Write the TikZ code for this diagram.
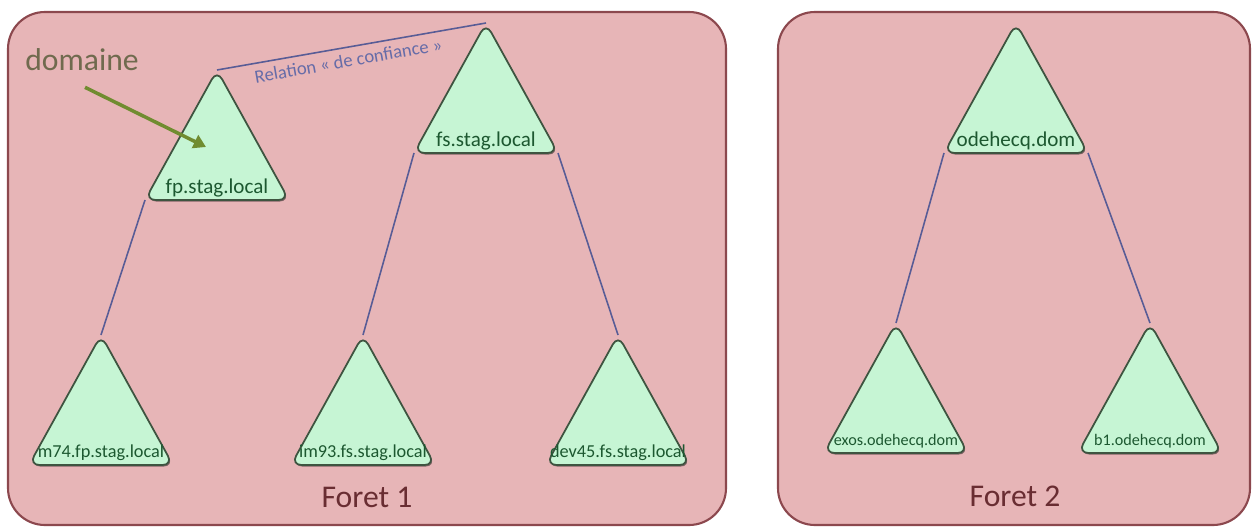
\documentclass[tikz,border=0pt]{standalone}
\usepackage{fontspec}
\setmainfont{Carlito}
\usepackage{tikz}
\usetikzlibrary{arrows.meta,positioning,calc,shadows}
\definecolor{rose}{RGB}{231,181,183}
\definecolor{rosedark}{RGB}{140,72,78}
\definecolor{mint}{RGB}{198,245,212}
\definecolor{mintline}{RGB}{62,84,64}
\definecolor{greentext}{RGB}{28,88,48}
\definecolor{linkblue}{RGB}{88,92,150}
\definecolor{relblue}{RGB}{102,108,168}
\definecolor{olive}{RGB}{112,140,48}
\definecolor{olivegrey}{RGB}{112,106,78}
\definecolor{foretred}{RGB}{105,45,50}

\newcommand{\domtri}[5]{%
  \coordinate (#1-top) at (#2,#3);
  \coordinate (#1-bl) at ($(#1-top)+(-72,130)$);
  \coordinate (#1-br) at ($(#1-top)+(72,130)$);
  \draw[tri] (#1-top) -- (#1-br) -- (#1-bl) -- cycle;
  \node[domlbl,font=#4] (#1) at ($(#1-top)+(0,118)$) {#5};
}

\begin{document}
\begin{tikzpicture}[x=0.02cm,y=-0.02cm,>=Latex,
  foret/.style={draw=rosedark,line width=1.2pt,fill=rose,rounded corners=21pt},
  tri/.style={draw=mintline,line width=1pt,fill=mint,rounded corners=6pt,
    drop shadow={shadow xshift=0.6pt,shadow yshift=-0.9pt,opacity=0.45,fill=black}},
  domlbl/.style={text=greentext,inner sep=1pt},
  lien/.style={draw=linkblue,line width=0.9pt},
  fleche/.style={draw=olive,line width=2pt,-{Triangle[length=7pt,width=8pt]}}]
  \useasboundingbox (0,0) rectangle (1255,527);
  \draw[foret] (8,12) rectangle (726,525);
  \draw[foret] (778,12) rectangle (1250,525);

  \domtri{fp}{217}{70}{\fontsize{12pt}{14pt}\selectfont}{fp.stag.local}
  \domtri{fs}{486}{23}{\fontsize{12pt}{14pt}\selectfont}{fs.stag.local}
  \domtri{m74}{101}{335}{\fontsize{10.4pt}{12pt}\selectfont}{m74.fp.stag.local}
  \domtri{im93}{363}{335}{\fontsize{10.4pt}{12pt}\selectfont}{im93.fs.stag.local}
  \domtri{dev45}{618}{335}{\fontsize{10.4pt}{12pt}\selectfont}{dev45.fs.stag.local}
  \domtri{ode}{1016}{23}{\fontsize{12pt}{14pt}\selectfont}{odehecq.dom}
  \domtri{exos}{896}{323}{\fontsize{9.2pt}{11pt}\selectfont}{exos.odehecq.dom}
  \domtri{b1}{1150}{323}{\fontsize{9.2pt}{11pt}\selectfont}{b1.odehecq.dom}

  \draw[lien] (fp-bl) -- (m74-top);
  \draw[lien] (fs-bl) -- (im93-top);
  \draw[lien] (fs-br) -- (dev45-top);
  \draw[lien] (ode-bl) -- (exos-top);
  \draw[lien] (ode-br) -- (b1-top);
  \draw[lien] (fp-top) -- node[sloped,below,pos=0.48,text=relblue,font=\fontsize{10.6pt}{12pt}\selectfont] (rel) {Relation « de confiance »} (fs-top);

  \node[text=olivegrey,font=\fontsize{18pt}{20pt}\selectfont] (dom) at (82,60) {domaine};
  \coordinate (domtip) at (206,147);
  \draw[fleche] (dom.south) ++(3,10) -- (domtip);

  \node[text=foretred,font=\fontsize{18pt}{20pt}\selectfont] (f1) at (367,497) {Foret 1};
  \node[text=foretred,font=\fontsize{18pt}{20pt}\selectfont] (f2) at (1015,496) {Foret 2};
\end{tikzpicture}
\end{document}
